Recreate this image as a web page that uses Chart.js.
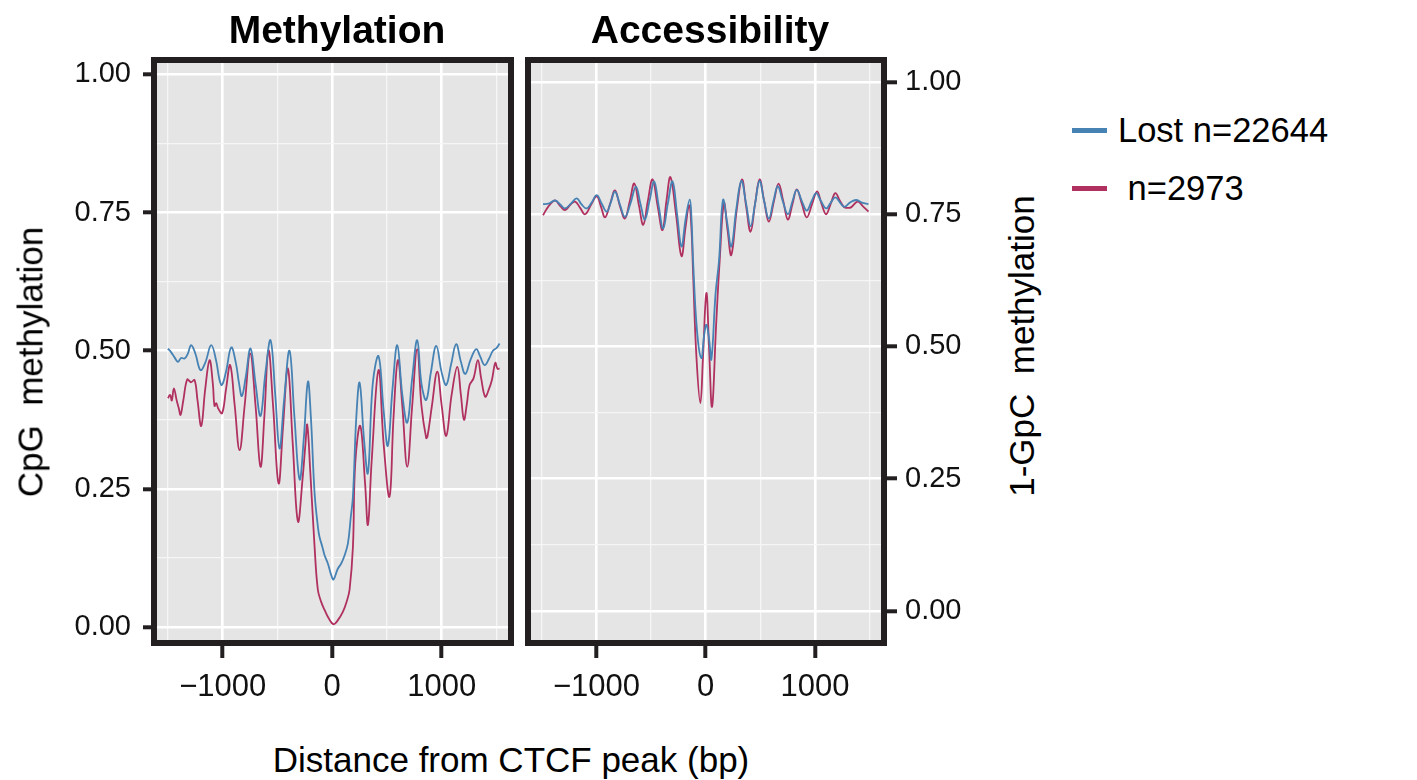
<!DOCTYPE html>
<html>
<head>
<meta charset="utf-8">
<title>CTCF methylation / accessibility</title>
<script src="https://cdn.jsdelivr.net/npm/chart.js@4.4.1/dist/chart.umd.min.js"></script>
<style>
  body {
    margin: 0;
    width: 1417px;
    height: 780px;
    position: relative;
    overflow: hidden;
    background: #fff;
    font-family: "Liberation Sans", Arial, sans-serif;
    color: #000;
  }
  .panel { position: absolute; top: 0; height: 720px; }
  .txt {
    position: absolute;
    line-height: 1;
    white-space: pre;
    transform: translate(-50%, -50%);
  }
  .title { font-size: 39px; font-weight: bold; }
  .axis-title { font-size: 35px; }
  .rot { transform: translate(-50%, -50%) rotate(-90deg); }
  .legend-item { position: absolute; left: 1072px; height: 40px; display: flex; align-items: center; font-size: 34.5px; white-space: pre; }
  .legend-item .sw { width: 35px; height: 5px; margin-right: 11px; }
</style>
</head>
<body>

<div class="panel" style="left:0;width:515px"><canvas id="chartMeth" width="515" height="720"></canvas></div>
<div class="panel" style="left:520px;width:480px"><canvas id="chartAcc" width="480" height="720"></canvas></div>

<div class="txt title" style="left:337px;top:29px">Methylation</div>
<div class="txt title" style="left:710px;top:29px">Accessibility</div>
<div class="txt axis-title rot" style="left:30px;top:362px">CpG  methylation</div>
<div class="txt axis-title rot" style="left:1021px;top:346px">1-GpC  methylation</div>
<div class="txt axis-title" style="left:511px;top:759px">Distance from CTCF peak (bp)</div>

<div class="legend-item" style="top:110px"><span class="sw" style="background:#4682B4"></span>Lost n=22644</div>
<div class="legend-item" style="top:168px"><span class="sw" style="background:#B03060"></span> n=2973</div>

<script>
// tick positions
const xMajor = [-1000, 0, 1000];
const xMinor = [-1500, -500, 500, 1500];
const yMajor = [0, 0.25, 0.5, 0.75, 1];
const yMinor = [0.125, 0.375, 0.625, 0.875];

const seriesNames = ["Lost n=22644", " n=2973"];
const seriesColors = ["#4682B4", "#B03060"];

// Methylation panel, Lost
const methLostX = [-1500, -1470, -1440, -1409, -1380, -1349, -1320, -1288, -1250, -1203, -1160, -1105, -1060, -1030, -1007, -970, -922, -880, -850, -825, -790, -746, -700, -655, -610, -563, -520, -481, -440, -390, -345, -298, -260, -222, -195, -161, -130, -116, -90, -70, -40, -9, 12, 50, 82, 110, 143, 170, 189, 220, 250, 290, 326, 370, 423, 470, 508, 550, 594, 640, 685, 730, 776, 815, 858, 900, 950, 1000, 1041, 1085, 1132, 1175, 1215, 1265, 1315, 1350, 1391, 1430, 1467, 1500, 1528];
const methLostY = [0.504, 0.497, 0.488, 0.480, 0.487, 0.486, 0.494, 0.510, 0.495, 0.465, 0.478, 0.510, 0.482, 0.448, 0.438, 0.462, 0.506, 0.478, 0.440, 0.418, 0.452, 0.504, 0.440, 0.382, 0.460, 0.519, 0.420, 0.323, 0.410, 0.500, 0.380, 0.267, 0.340, 0.444, 0.380, 0.242, 0.180, 0.163, 0.145, 0.130, 0.115, 0.094, 0.086, 0.105, 0.115, 0.128, 0.151, 0.200, 0.236, 0.380, 0.442, 0.340, 0.279, 0.440, 0.490, 0.390, 0.328, 0.430, 0.510, 0.420, 0.370, 0.450, 0.519, 0.440, 0.411, 0.460, 0.509, 0.460, 0.438, 0.475, 0.512, 0.480, 0.458, 0.485, 0.503, 0.490, 0.474, 0.485, 0.500, 0.505, 0.513];

// Methylation panel, other
const methOtherX = [-1500, -1480, -1465, -1446, -1420, -1400, -1385, -1360, -1324, -1290, -1257, -1230, -1196, -1160, -1120, -1090, -1075, -1059, -1040, -1005, -970, -932, -890, -846, -800, -749, -700, -655, -620, -582, -540, -490, -450, -405, -360, -313, -270, -245, -228, -200, -161, -131, -100, -70, -30, 12, 50, 98, 130, 158, 189, 210, 256, 300, 326, 360, 423, 470, 523, 560, 600, 640, 685, 730, 776, 815, 858, 870, 910, 959, 1000, 1041, 1090, 1142, 1175, 1203, 1230, 1254, 1290, 1330, 1360, 1397, 1430, 1458, 1489, 1510, 1528];
const methOtherY = [0.414, 0.420, 0.410, 0.432, 0.410, 0.395, 0.384, 0.410, 0.448, 0.443, 0.447, 0.410, 0.364, 0.430, 0.483, 0.440, 0.400, 0.405, 0.395, 0.387, 0.430, 0.474, 0.400, 0.320, 0.400, 0.495, 0.400, 0.290, 0.380, 0.501, 0.400, 0.260, 0.360, 0.468, 0.330, 0.191, 0.270, 0.330, 0.366, 0.280, 0.145, 0.067, 0.045, 0.031, 0.015, 0.005, 0.012, 0.028, 0.045, 0.067, 0.145, 0.296, 0.364, 0.260, 0.185, 0.300, 0.465, 0.330, 0.236, 0.380, 0.483, 0.400, 0.290, 0.400, 0.503, 0.400, 0.342, 0.345, 0.400, 0.462, 0.400, 0.346, 0.420, 0.471, 0.420, 0.375, 0.405, 0.438, 0.450, 0.483, 0.450, 0.417, 0.430, 0.447, 0.478, 0.467, 0.468];

// Accessibility panel, Lost
const accLostX = [-1490, -1440, -1379, -1330, -1288, -1235, -1181, -1135, -1090, -1045, -998, -952, -907, -870, -831, -785, -740, -690, -639, -598, -557, -515, -472, -430, -390, -347, -304, -262, -222, -185, -146, -130, -116, -80, -40, -15, 6, 30, 52, 90, 122, 158, 196, 234, 280, 326, 370, 411, 452, 493, 535, 578, 620, 660, 705, 752, 795, 834, 880, 925, 970, 1011, 1055, 1102, 1145, 1187, 1230, 1269, 1320, 1376, 1430, 1490];
const accLostY = [0.769, 0.770, 0.776, 0.768, 0.761, 0.770, 0.780, 0.768, 0.761, 0.772, 0.786, 0.770, 0.755, 0.772, 0.793, 0.768, 0.745, 0.770, 0.802, 0.770, 0.740, 0.775, 0.812, 0.765, 0.723, 0.770, 0.812, 0.750, 0.689, 0.740, 0.778, 0.740, 0.663, 0.530, 0.478, 0.520, 0.541, 0.515, 0.476, 0.600, 0.663, 0.777, 0.735, 0.689, 0.760, 0.813, 0.770, 0.727, 0.770, 0.813, 0.775, 0.742, 0.775, 0.803, 0.775, 0.750, 0.775, 0.796, 0.775, 0.757, 0.775, 0.790, 0.775, 0.761, 0.772, 0.782, 0.772, 0.764, 0.772, 0.777, 0.772, 0.769];

// Accessibility panel, other
const accOtherX = [-1490, -1440, -1379, -1330, -1288, -1240, -1196, -1150, -1105, -1050, -998, -960, -922, -875, -831, -785, -740, -695, -654, -610, -572, -530, -487, -440, -396, -360, -323, -272, -222, -185, -152, -130, -116, -85, -49, -25, 6, 30, 58, 95, 128, 167, 200, 234, 285, 332, 370, 411, 452, 493, 535, 578, 625, 667, 710, 752, 795, 834, 880, 925, 975, 1020, 1060, 1102, 1145, 1187, 1230, 1269, 1300, 1330, 1391, 1440, 1490];
const accOtherY = [0.748, 0.765, 0.776, 0.765, 0.758, 0.768, 0.774, 0.762, 0.750, 0.768, 0.784, 0.765, 0.744, 0.770, 0.795, 0.765, 0.742, 0.775, 0.808, 0.765, 0.730, 0.775, 0.816, 0.765, 0.720, 0.775, 0.820, 0.750, 0.671, 0.725, 0.767, 0.720, 0.640, 0.480, 0.393, 0.480, 0.601, 0.500, 0.386, 0.540, 0.663, 0.771, 0.720, 0.673, 0.760, 0.816, 0.765, 0.717, 0.770, 0.816, 0.775, 0.736, 0.775, 0.808, 0.775, 0.740, 0.770, 0.797, 0.770, 0.744, 0.770, 0.793, 0.770, 0.750, 0.770, 0.790, 0.775, 0.763, 0.762, 0.763, 0.774, 0.765, 0.755];

const FONT = "'Liberation Sans', Arial, sans-serif";
const isMajor = (v, majors) => majors.some((m) => Math.abs(m - v) < 1e-9);
const fmtX = (v) => (v < 0 ? "\u2212" + Math.abs(v) : String(v));

const toPoints = (xs, ys) => xs.map((x, i) => ({ x, y: ys[i] }));

// grey panel behind, thick black frame on top
const panelPlugin = {
  id: "panel",
  beforeDraw(chart) {
    const { ctx, chartArea: a } = chart;
    ctx.save();
    ctx.fillStyle = "#E4E5E4";
    ctx.fillRect(a.left, a.top, a.right - a.left, a.bottom - a.top);
    ctx.restore();
  },
  afterDraw(chart) {
    const { ctx, chartArea: a } = chart;
    ctx.save();
    ctx.strokeStyle = "#231F20";
    ctx.lineWidth = 6;
    ctx.strokeRect(a.left - 3, a.top - 3, a.right - a.left + 6, a.bottom - a.top + 6);
    ctx.restore();
  },
};

const gridOpts = (majors, tickLength) => ({
  drawOnChartArea: true,
  drawTicks: true,
  tickLength: tickLength,
  color: (c) => (isMajor(c.tick.value, majors) ? "#FFFFFF" : "#F6F6F6"),
  lineWidth: (c) => (isMajor(c.tick.value, majors) ? 2.6 : 1.3),
  tickColor: (c) => (isMajor(c.tick.value, majors) ? "#231F20" : "rgba(0,0,0,0)"),
  tickWidth: 4,
});

const renderPanel = (id, lost, other, yPos, layoutPadding, yWidth, yMin, yMax, yTickLen, yPad) => {
  new Chart(document.getElementById(id), {
    type: "line",
    data: {
      datasets: [
        {
          label: seriesNames[0],
          data: lost,
          borderColor: seriesColors[0],
          borderWidth: 1.8,
          pointRadius: 0,
          tension: 0.4,
        },
        {
          label: seriesNames[1],
          data: other,
          borderColor: seriesColors[1],
          borderWidth: 1.8,
          pointRadius: 0,
          tension: 0.4,
        },
      ],
    },
    options: {
      responsive: false,
      animation: false,
      devicePixelRatio: 1,
      layout: { padding: layoutPadding },
      plugins: { legend: { display: false }, tooltip: { enabled: false }, title: { display: false } },
      scales: {
        x: {
          type: "linear",
          min: -1600,
          max: 1605,
          afterBuildTicks: (s) => {
            s.ticks = [...xMajor, ...xMinor].sort((a, b) => a - b).map((v) => ({ value: v }));
          },
          afterFit: (s) => {
            s.height = 80;
          },
          border: { display: false },
          grid: gridOpts(xMajor, 18),
          ticks: {
            autoSkip: false,
            maxRotation: 0,
            padding: 11,
            color: "#111",
            font: { family: FONT, size: 31 },
            callback: (v) => (isMajor(v, xMajor) ? fmtX(v) : ""),
          },
        },
        y: {
          type: "linear",
          position: yPos,
          min: yMin,
          max: yMax,
          afterBuildTicks: (s) => {
            s.ticks = [...yMajor, ...yMinor].sort((a, b) => a - b).map((v) => ({ value: v }));
          },
          afterFit: (s) => {
            s.width = yWidth;
          },
          border: { display: false },
          grid: gridOpts(yMajor, yTickLen),
          ticks: {
            autoSkip: false,
            padding: yPad,
            color: "#111",
            font: { family: FONT, size: 29 },
            callback: (v) => (isMajor(v, yMajor) ? v.toFixed(2) : ""),
          },
        },
      },
    },
    plugins: [panelPlugin],
  });
};

renderPanel(
  "chartMeth",
  toPoints(methLostX, methLostY),
  toPoints(methOtherX, methOtherY),
  "left",
  { top: 63, right: 7, left: 0, bottom: 0 },
  157, -0.0235, 1.0208, 14, 12
);

renderPanel(
  "chartAcc",
  toPoints(accLostX, accLostY),
  toPoints(accOtherX, accOtherY),
  "right",
  { top: 63, right: 0, left: 11, bottom: 0 },
  119, -0.055, 1.036, 16, 8
);
</script>
</body>
</html>
